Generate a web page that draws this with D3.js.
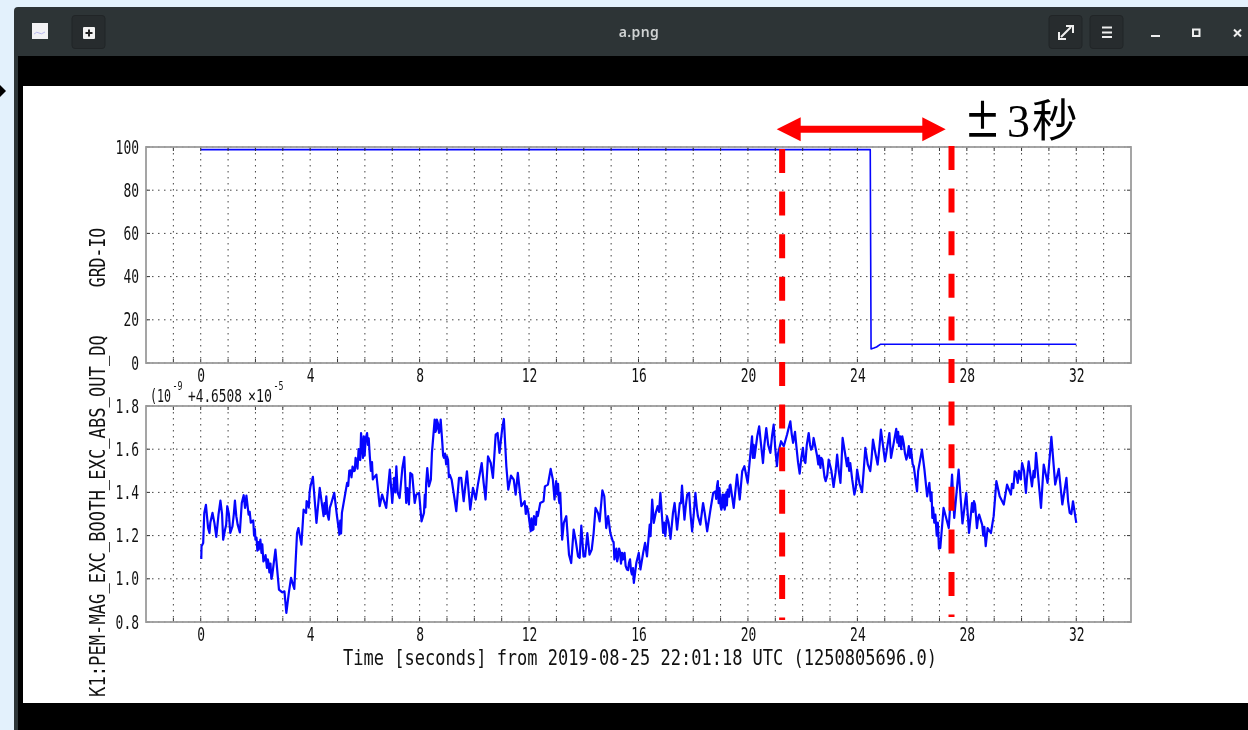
<!DOCTYPE html>
<html>
<head>
<meta charset="utf-8">
<title>a.png</title>
<script src="https://cdn.jsdelivr.net/npm/d3@7"></script>
<style>
html, body { margin: 0; padding: 0; background: #e3f1fc; overflow: hidden; }
svg { display: block; filter: blur(0.45px); }
text { font-family: "DejaVu Sans Mono", monospace; fill: #111; }
</style>
</head>
<body>
<div id="chart"></div>
<script>
// channel 1: guardian state
const grdTime = [0, 24.47, 24.5, 24.6, 24.7, 24.85, 32];
const grdValue = [98.8, 98.8, 6.5, 6.9, 7.4, 8.7, 8.7];

// channel 2: values, turning points only
const excTime = [
    0.02, 0.03, 0.09, 0.13, 0.19, 0.27, 0.32, 0.35, 0.43, 0.50, 0.57, 0.65, 0.72, 0.82, 0.89, 0.97,
    1.08, 1.16, 1.25, 1.35, 1.43, 1.50, 1.57, 1.62, 1.67, 1.75, 1.88, 2.00, 2.12, 2.18, 2.33, 2.48,
    2.61, 2.73, 2.86, 2.97, 3.06, 3.13, 3.22, 3.30, 3.42, 3.52, 3.57, 3.68, 3.76, 3.85, 3.92, 4.01,
    4.10, 4.23, 4.35, 4.49, 4.59, 4.68, 4.76, 4.88, 4.98, 5.07, 5.16, 5.35, 5.47, 5.59, 5.69, 5.81,
    5.86, 5.93, 6.08, 6.18, 6.32, 6.42, 6.54, 6.63, 6.78, 6.91,
    7.00, 7.07, 7.15, 7.20, 7.27, 7.37, 7.44, 7.51, 7.61, 7.66, 7.73, 7.82, 7.88, 7.98, 8.07, 8.16,
    8.24, 8.28, 8.34, 8.41, 8.45, 8.55, 8.61, 8.63, 8.71, 8.77, 8.83, 8.89, 9.00, 9.10, 9.17, 9.28,
    9.34, 9.44, 9.52, 9.61, 9.73, 9.85, 9.95, 10.05, 10.13, 10.27, 10.34, 10.41, 10.50, 10.60, 10.68,
    10.78, 10.85, 10.92, 11.02, 11.08, 11.17, 11.24, 11.34, 11.44, 11.51, 11.59, 11.72, 11.84, 11.92,
    12.02, 12.12, 12.21, 12.32, 12.41, 12.53, 12.58, 12.69, 12.79, 12.87, 12.93, 12.99, 13.09, 13.14,
    13.21, 13.27, 13.36, 13.46, 13.54, 13.63, 13.70, 13.79, 13.85, 13.91, 13.99, 14.05, 14.13, 14.21,
    14.29, 14.36, 14.43, 14.52, 14.58, 14.68, 14.75, 14.82, 14.89, 14.97, 15.06, 15.16, 15.25, 15.33,
    15.43, 15.49, 15.58, 15.65, 15.73, 15.83, 15.92, 16.01,
    16.07, 16.17, 16.24, 16.31, 16.41, 16.44, 16.50, 16.56, 16.63, 16.70, 16.80, 16.90, 16.98, 17.04,
    17.17, 17.26, 17.32, 17.41, 17.51, 17.59, 17.68, 17.78, 17.85, 17.96, 18.08, 18.17, 18.26, 18.36,
    18.42, 18.51, 18.63, 18.73, 18.81, 18.90, 19.00, 19.07, 19.18, 19.26, 19.36, 19.48, 19.60, 19.70,
    19.79, 19.87, 19.99, 20.15, 20.24, 20.41, 20.55, 20.67, 20.82, 20.94, 21.06, 21.21, 21.31, 21.43,
    21.55, 21.65, 21.77, 21.89, 22.01, 22.10, 22.22, 22.31, 22.40, 22.53, 22.65, 22.72, 22.84, 22.95,
    23.13, 23.26, 23.38, 23.46, 23.62, 23.74, 23.89, 23.99, 24.17, 24.29, 24.47, 24.57, 24.74, 24.86,
    25.01, 25.17, 25.23, 25.42, 25.52, 25.69, 25.79, 25.88, 26.06, 26.18, 26.22, 26.36, 26.45, 26.55,
    26.63, 26.74, 26.85, 27.03, 27.15, 27.34, 27.46, 27.54, 27.70, 27.84, 27.98, 28.08, 28.19, 28.30,
    28.37, 28.45, 28.56, 28.69, 28.76, 28.88, 28.98, 29.08, 29.20, 29.35, 29.47, 29.61, 29.75, 29.86,
    30.02, 30.16, 30.26, 30.38, 30.53, 30.71, 30.81, 30.95, 31.09, 31.23, 31.36, 31.49, 31.64, 31.76,
    31.88, 32.00
];
const excValue = [
    1.092, 1.151, 1.166, 1.305, 1.342, 1.235, 1.212, 1.259, 1.305, 1.259, 1.194, 1.297, 1.362, 1.181, 1.228, 1.336,
    1.212, 1.243, 1.362, 1.251, 1.215, 1.351, 1.387, 1.328, 1.385, 1.297, 1.266, 1.181, 1.135, 1.181, 1.089, 1.073,
    1.012, 1.135, 0.950, 0.938, 0.942, 0.842, 0.935, 1.004, 0.953, 1.212, 1.235, 1.158, 1.320, 1.305, 1.351, 1.428,
    1.472, 1.259, 1.421, 1.290, 1.382, 1.274, 1.344, 1.398, 1.290, 1.205, 1.305, 1.444, 1.502, 1.498, 1.544, 1.552,
    1.675, 1.560, 1.675, 1.567, 1.467, 1.482, 1.336, 1.390, 1.328, 1.506,
    1.351, 1.467, 1.521, 1.398, 1.374, 1.513, 1.564, 1.351, 1.344, 1.490, 1.482, 1.351, 1.390, 1.398, 1.266, 1.305,
    1.444, 1.513, 1.428, 1.459, 1.583, 1.737, 1.691, 1.737, 1.675, 1.737, 1.629, 1.560, 1.567, 1.482, 1.459, 1.367,
    1.313, 1.467, 1.467, 1.359, 1.498, 1.320, 1.421, 1.367, 1.436, 1.536, 1.444, 1.367, 1.567, 1.536, 1.467,
    1.668, 1.675, 1.583, 1.698, 1.740, 1.521, 1.413, 1.478, 1.459, 1.390, 1.490, 1.336, 1.359, 1.336,
    1.259, 1.225, 1.282, 1.290, 1.351, 1.359, 1.428, 1.436, 1.509, 1.459, 1.367, 1.452, 1.367, 1.398,
    1.181, 1.259, 1.290, 1.112, 1.073, 1.228, 1.181, 1.104, 1.097, 1.246, 1.104, 1.104, 1.212, 1.112,
    1.135, 1.212, 1.328, 1.305, 1.266, 1.410, 1.382, 1.235, 1.290, 1.212, 1.174, 1.120, 1.097, 1.123,
    1.089, 1.120, 1.043, 1.073, 1.035, 0.981, 1.073, 1.120,
    1.043, 1.120, 1.166, 1.104, 1.251, 1.197, 1.367, 1.259, 1.305, 1.336, 1.398, 1.212, 1.197, 1.290,
    1.185, 1.305, 1.351, 1.228, 1.351, 1.431, 1.274, 1.390, 1.398, 1.220, 1.398, 1.290, 1.251, 1.351,
    1.305, 1.220, 1.320, 1.398, 1.405, 1.452, 1.336, 1.390, 1.344, 1.413, 1.436, 1.328, 1.482, 1.367,
    1.498, 1.521, 1.444, 1.660, 1.560, 1.706, 1.536, 1.698, 1.583, 1.714, 1.521, 1.637, 1.614, 1.668,
    1.729, 1.629, 1.614, 1.487, 1.606, 1.536, 1.675, 1.598, 1.652, 1.567, 1.513, 1.552, 1.452, 1.552,
    1.425, 1.575, 1.444, 1.652, 1.521, 1.536, 1.390, 1.506, 1.401, 1.606, 1.498, 1.644, 1.529, 1.691,
    1.544, 1.675, 1.560, 1.694, 1.614, 1.629, 1.552, 1.614, 1.521, 1.405, 1.498, 1.598, 1.506, 1.382,
    1.444, 1.282, 1.297, 1.143, 1.328, 1.235, 1.482, 1.282, 1.506, 1.256, 1.398, 1.212, 1.351, 1.344,
    1.235, 1.297, 1.251, 1.151, 1.235, 1.212, 1.290, 1.452, 1.382, 1.344, 1.436, 1.390, 1.498, 1.444,
    1.536, 1.398, 1.544, 1.428, 1.583, 1.328, 1.529, 1.444, 1.657, 1.436, 1.509, 1.344, 1.467, 1.305,
    1.359, 1.259
];

// the small wiggles between those turning points, where the trace looks thick
const wiggleTime = [
    0.78, 0.93, 1.03, 1.21, 1.30, 1.79, 1.83, 1.92, 1.95, 1.98, 2.04, 2.07, 2.10, 2.22, 2.25, 2.29, 2.37, 2.42, 2.45,
    2.51, 2.55, 2.58, 3.87, 3.95, 3.98, 4.52, 4.55, 4.63, 4.72, 5.10, 5.13, 5.39, 5.43, 5.51, 5.55, 5.63, 5.66, 5.73,
    5.77, 5.83, 5.96, 5.99, 6.03, 6.11, 6.14, 6.22, 6.26, 6.29, 7.11, 7.55, 8.19, 8.21, 8.58, 8.67, 8.74, 8.86, 8.93,
    8.97, 9.04, 9.07, 11.88, 11.97, 12.06, 12.09, 12.16, 12.18, 12.25, 12.28, 13.03, 13.06, 13.11, 15.09, 15.12, 15.19,
    15.22, 15.29, 15.36, 15.40, 15.53, 15.62, 15.69, 15.76, 15.80, 16.75, 16.94, 17.10, 17.47, 17.55, 17.73, 17.90,
    18.02, 18.13, 18.84, 18.87, 18.93, 18.96, 19.03, 19.10, 19.13, 19.15, 19.21, 19.23, 19.31, 19.33, 20.18, 20.21,
    20.28, 20.34, 20.48, 20.60, 20.74, 20.88, 21.00, 21.10, 21.60, 21.72, 21.83, 21.95, 22.05, 22.15, 22.27, 22.36,
    22.57, 22.60, 22.68, 22.80, 22.90, 23.05, 23.20, 23.32, 23.42, 23.55, 23.66, 23.70, 23.81, 23.94, 24.08, 24.23,
    24.38, 24.52, 24.66, 24.80, 25.46, 25.49, 25.56, 25.60, 25.64, 25.74, 25.83, 25.92, 25.96, 26.02, 26.68, 26.71,
    26.77, 26.81, 26.90, 26.94, 26.98, 28.23, 28.26, 28.41, 28.60, 28.64, 29.65, 29.70, 29.80, 29.90, 29.97, 30.09,
    30.20, 30.44, 30.48, 31.70, 31.82
];
const wiggleValue = [
    1.30, 1.25, 1.30, 1.30, 1.29, 1.31, 1.26, 1.27, 1.20, 1.23, 1.19, 1.13, 1.17, 1.12, 1.16, 1.08, 1.11, 1.05, 1.09,
    1.03, 1.07, 1.00, 1.36, 1.33, 1.40, 1.35, 1.30, 1.30, 1.33, 1.27, 1.21, 1.43, 1.50, 1.47, 1.52, 1.50, 1.56, 1.51,
    1.60, 1.55, 1.66, 1.57, 1.65, 1.62, 1.65, 1.50, 1.54, 1.46, 1.40, 1.42, 1.39, 1.33, 1.68, 1.72, 1.69, 1.57, 1.58,
    1.53, 1.55, 1.47, 1.30, 1.31, 1.22, 1.28, 1.23, 1.29, 1.25, 1.31, 1.39, 1.44, 1.35, 1.17, 1.09, 1.14,
    1.08, 1.14, 1.07, 1.12, 1.06, 1.04, 1.09, 1.02, 1.05, 1.31, 1.26, 1.26, 1.30, 1.35, 1.34, 1.30,
    1.30, 1.33, 1.37, 1.43, 1.35, 1.42, 1.32, 1.33, 1.39, 1.32, 1.40, 1.34, 1.38, 1.43, 1.56, 1.62,
    1.60, 1.66, 1.62, 1.62, 1.62, 1.66, 1.60, 1.58, 1.67, 1.68, 1.54, 1.56, 1.55, 1.62, 1.62, 1.61,
    1.53, 1.57, 1.56, 1.47, 1.48, 1.50, 1.49, 1.50, 1.54, 1.58, 1.56, 1.50, 1.46, 1.42, 1.44, 1.50,
    1.53, 1.56, 1.58, 1.60, 1.63, 1.68, 1.66, 1.60, 1.66, 1.58, 1.57, 1.56, 1.60, 1.53, 1.36, 1.40,
    1.33, 1.26, 1.20, 1.26, 1.14, 1.31, 1.36, 1.28, 1.20, 1.24, 1.44, 1.42, 1.49, 1.50, 1.46, 1.50,
    1.47, 1.50, 1.47, 1.36, 1.30
];

const grdTicks = [0, 20, 40, 60, 80, 100];
const excTicks = [0.8, 1.0, 1.2, 1.4, 1.6, 1.8];
const gridTimes = d3.range(-1, 34);
const labelTimes = [0, 4, 8, 12, 16, 20, 24, 28, 32];
const markerTimes = [21.25, 27.44];
const markerTops = [149, 146];
const markerBottoms = [620, 617];

const timeLabel = 'Time [seconds] from 2019-08-25 22:01:18 UTC (1250805696.0)';
const grdLabel = 'GRD-IO';
const excLabel = 'K1:PEM-MAG_EXC_BOOTH_EXC_ABS_OUT_DQ';

const svg = d3.select('#chart').append('svg')
    .attr('width', 1248)
    .attr('height', 730);

// squeezes the mono font the way the plot tool did
function squeeze(sel, perChar) {
    sel.each(function () {
        const t = d3.select(this);
        t.attr('textLength', t.text().length * perChar).attr('lengthAdjust', 'spacingAndGlyphs');
    });
}

function drawWindow() {
    svg.append('path')
        .attr('d', 'M14,730V11Q14,7 18,7H1248V730Z')
        .attr('fill', '#2d3436');
    svg.append('rect').attr('x', 18).attr('y', 56).attr('width', 1230).attr('height', 674).attr('fill', '#000');
    svg.append('rect').attr('x', 23).attr('y', 86).attr('width', 1225).attr('height', 617).attr('fill', '#fff');
    svg.append('path').attr('d', 'M0,85L6,91L0,97Z').attr('fill', '#000');

    // header buttons
    [72, 1049, 1090].forEach(x => {
        svg.append('rect').attr('x', x).attr('y', 15.5).attr('width', 33).attr('height', 33).attr('rx', 3)
            .attr('fill', '#272c2e').attr('stroke', '#212527');
    });
    svg.append('rect').attr('x', 32).attr('y', 23).attr('width', 16).attr('height', 16).attr('fill', '#f2f2f4');
    svg.append('path').attr('d', 'M34,34q3,-3 5,-1t6,-1').attr('fill', 'none').attr('stroke', '#b9b9f0');
    svg.append('rect').attr('x', 83).attr('y', 27).attr('width', 12).attr('height', 12).attr('rx', 1).attr('fill', '#f2f2f2');
    svg.append('path').attr('d', 'M85.5,33H92.5M89,29.5V36.5').attr('stroke', '#222').attr('stroke-width', 2);

    svg.append('path').attr('d', 'M1061,37L1071,27M1066,26H1073V33M1059,32V39H1066')
        .attr('fill', 'none').attr('stroke', '#eee').attr('stroke-width', 2);
    svg.append('path').attr('d', 'M1102,27.5H1112M1102,32.5H1112M1102,37H1112')
        .attr('stroke', '#eee').attr('stroke-width', 2);
    svg.append('path').attr('d', 'M1151,36H1160').attr('stroke', '#eee').attr('stroke-width', 2);
    svg.append('rect').attr('x', 1193).attr('y', 29.5).attr('width', 6.5).attr('height', 6.5)
        .attr('fill', 'none').attr('stroke', '#eee').attr('stroke-width', 2);
    svg.append('path').attr('d', 'M1234,29.5L1241,36.5M1241,29.5L1234,36.5').attr('stroke', '#eee').attr('stroke-width', 2);

    svg.append('text').attr('x', 639).attr('y', 37).attr('text-anchor', 'middle')
        .style('font-family', '"Noto Sans", sans-serif').style('font-size', '14px').style('font-weight', 600)
        .style('fill', '#cfd2d2').style('letter-spacing', '0.4px').text('a.png');
}

const x = d3.scaleLinear().domain([-2, 34]).range([146, 1131]);

function drawPanel(top, bottom, yDomain, yTicks, yFormat, points, lineWidth) {
    const y = d3.scaleLinear().domain(yDomain).range([bottom, top]);
    const g = svg.append('g');

    // dotted grid
    g.append('g').selectAll('line').data(gridTimes).join('line')
        .attr('x1', d => x(d)).attr('x2', d => x(d)).attr('y1', top).attr('y2', bottom);
    g.append('g').selectAll('line').data(yTicks).join('line')
        .attr('x1', x.range()[0]).attr('x2', x.range()[1]).attr('y1', d => y(d)).attr('y2', d => y(d));
    g.selectAll('line')
        .attr('stroke', '#444').attr('stroke-width', 1).attr('stroke-dasharray', '1.5,4.5');

    const line = d3.line().x(d => x(d[0])).y(d => y(d[1]));
    g.append('path').datum(points)
        .attr('d', line)
        .attr('fill', 'none').attr('stroke', '#0505ff').attr('stroke-width', lineWidth)
        .attr('stroke-linejoin', 'round');

    const xAxis = d3.axisBottom(x).tickValues(labelTimes).tickSize(0).tickPadding(6);
    const gx = g.append('g').attr('transform', `translate(0,${bottom})`).call(xAxis);

    const yAxis = d3.axisLeft(y).tickValues(yTicks).tickFormat(yFormat).tickSize(0).tickPadding(7);
    const gy = g.append('g').attr('transform', `translate(${x.range()[0]},0)`).call(yAxis);

    [gx, gy].forEach(a => {
        a.select('.domain').remove();
        a.selectAll('text').style('font-size', '19px').style('font-family', '"DejaVu Sans Mono", monospace')
            .attr('fill', '#111').call(squeeze, 7.8);
    });

    // small inward ticks on all four sides
    g.append('g').selectAll('path').data(gridTimes).join('path')
        .attr('d', d => `M${x(d)},${top}v4M${x(d)},${bottom}v-4`)
        .attr('stroke', '#333').attr('fill', 'none');
    g.append('g').selectAll('path').data(yTicks).join('path')
        .attr('d', d => `M${x.range()[0]},${y(d)}h4M${x.range()[1]},${y(d)}h-4`)
        .attr('stroke', '#333').attr('fill', 'none');

    g.append('rect')
        .attr('x', x.range()[0]).attr('y', top)
        .attr('width', x.range()[1] - x.range()[0]).attr('height', bottom - top)
        .attr('fill', 'none').attr('stroke', '#9c9c9c').attr('stroke-width', 1.8);
}

function drawText() {
    svg.append('text')
        .attr('x', 640).attr('y', 665).attr('text-anchor', 'middle')
        .style('font-size', '21px').text(timeLabel).call(squeeze, 10.24);

    svg.append('text')
        .attr('transform', 'translate(105,257.5) rotate(-90)').attr('text-anchor', 'middle')
        .style('font-size', '21px').text(grdLabel).call(squeeze, 9.9);

    svg.append('text')
        .attr('transform', 'translate(105,516) rotate(-90)').attr('text-anchor', 'middle')
        .style('font-size', '21px').text(excLabel).call(squeeze, 10.34);

    // offset note above the lower panel, each piece scaled to its width
    const note = [
        { t: '(10', x: 150, y: 401.5, size: 18, w: 21 },
        { t: '-9', x: 172.5, y: 390, size: 12, w: 10 },
        { t: '+4.6508', x: 188, y: 401.5, size: 18, w: 54 },
        { t: '×10', x: 248, y: 401.5, size: 18, w: 24 },
        { t: '-5', x: 273.5, y: 390, size: 12, w: 10 }
    ];
    svg.append('g').selectAll('text').data(note).join('text')
        .attr('transform', d => `translate(${d.x},${d.y}) scale(${d.w / (d.t.length * d.size * 0.602)},1)`)
        .style('font-size', d => d.size + 'px')
        .text(d => d.t);
}

function drawMarkers() {
    // red dashed verticals and the span arrow pasted over the plot
    svg.append('g').selectAll('line').data(markerTimes).join('line')
        .attr('x1', d => x(d)).attr('x2', d => x(d))
        .attr('y1', (d, i) => markerTops[i]).attr('y2', (d, i) => markerBottoms[i])
        .attr('stroke', '#ff0000').attr('stroke-width', 6).attr('stroke-dasharray', '24,18.6');

    svg.append('path')
        .attr('d', 'M776.7,129.3L800.7,117.3V125.8H922.3V117.3L945.7,129.3L922.3,141.3V132.8H800.7V141.3Z')
        .attr('fill', '#ff0000');

    svg.append('text').attr('x', 964).attr('y', 137)
        .attr('textLength', 37).attr('lengthAdjust', 'spacingAndGlyphs')
        .style('font-family', '"Noto Sans CJK JP", sans-serif').style('font-size', '44px').style('font-weight', 500).style('fill', '#000')
        .text('±');
    svg.append('text').attr('x', 1007).attr('y', 137)
        .style('font-family', '"Liberation Serif", serif').style('font-size', '46px').style('fill', '#000')
        .text('3');
    svg.append('text').attr('x', 1032).attr('y', 137)
        .style('font-family', '"Noto Sans CJK JP", sans-serif').style('font-size', '45px').style('fill', '#000')
        .text('秒');
}

const grdPoints = d3.zip(grdTime, grdValue);
const excPoints = d3.zip(excTime, excValue).concat(d3.zip(wiggleTime, wiggleValue))
    .sort((a, b) => d3.ascending(a[0], b[0]));

drawWindow();
drawPanel(147, 363, [0, 100], grdTicks, d => d, grdPoints, 1.6);
drawPanel(406, 622, [0.8, 1.8], excTicks, d3.format('.1f'), excPoints, 2.2);
drawText();
drawMarkers();
</script>
</body>
</html>
